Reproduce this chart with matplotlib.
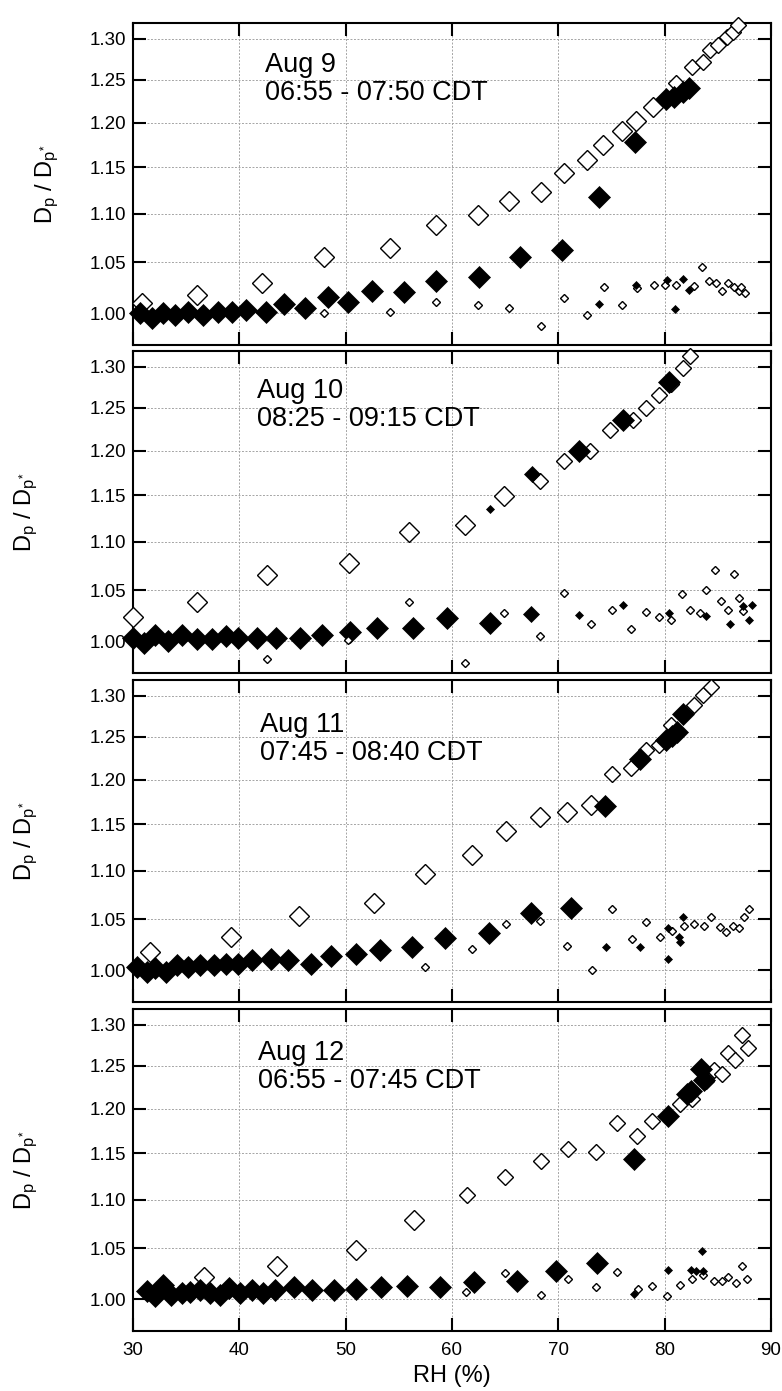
import matplotlib
matplotlib.use("Agg")
import matplotlib.pyplot as plt
from matplotlib.ticker import FixedLocator, FormatStrFormatter, NullLocator

plt.rcParams['font.family'] = ['Liberation Sans', 'DejaVu Sans']
plt.rcParams['mathtext.fontset'] = 'custom'
plt.rcParams['mathtext.rm'] = 'Liberation Sans'
plt.rcParams['mathtext.it'] = 'Liberation Sans'

# ---------------- data ----------------
panel_titles = ["Aug 9\n06:55 - 07:50 CDT", "Aug 10\n08:25 - 09:15 CDT",
                "Aug 11\n07:45 - 08:40 CDT", "Aug 12\n06:55 - 07:45 CDT"]
x_ticks = [30, 40, 50, 60, 70, 80, 90]
y_ticks = [1.00, 1.05, 1.10, 1.15, 1.20, 1.25, 1.30]

# Aug 9
aug9_big_fill_rh = [30.66, 31.76, 32.85, 33.95, 35.2, 36.6, 38.0, 39.3, 40.6, 42.5, 44.2, 46.2, 48.3, 50.25,
                    52.45, 55.5, 58.5, 62.55, 66.4, 70.3, 73.8, 77.2, 80.1, 80.9, 81.7, 82.3]
aug9_big_fill_gf = [1.000, 0.995, 1.000, 0.998, 1.0015, 0.998, 1.0015, 1.0015, 1.003, 1.0015, 1.009, 1.005, 1.016, 1.011,
                    1.021, 1.020, 1.031, 1.035, 1.055, 1.062, 1.118, 1.178, 1.227, 1.230, 1.236, 1.240]
aug9_mid_fill_rh = []
aug9_mid_fill_gf = []
aug9_small_fill_rh = [73.8, 77.3, 80.2, 81.7, 82.25, 80.96]
aug9_small_fill_gf = [1.009, 1.027, 1.032, 1.033, 1.022, 1.004]
aug9_big_open_rh = [30.8, 36.0, 42.1, 48.0, 54.2, 58.45, 62.47, 65.35, 68.4, 70.5, 72.7, 74.2, 75.95, 77.3, 78.86]
aug9_big_open_gf = [1.010, 1.018, 1.029, 1.055, 1.064, 1.088, 1.098, 1.113, 1.123, 1.144, 1.158, 1.175, 1.190, 1.202, 1.218]
aug9_mid_open_rh = [81.05, 82.6, 83.56, 84.3, 84.98, 85.9, 86.4, 86.86]
aug9_mid_open_gf = [1.246, 1.266, 1.272, 1.286, 1.293, 1.303, 1.309, 1.317]
aug9_small_open_rh = [48.0, 54.2, 58.45, 62.47, 65.4, 68.4, 70.5, 72.7, 74.26, 75.95, 77.4, 78.95, 80.0, 81.1,
                      82.8, 83.5, 84.2, 84.8, 85.4, 86.0, 86.5, 86.95, 87.2, 87.6]
aug9_small_open_gf = [1.000, 1.001, 1.011, 1.008, 1.005, 0.988, 1.015, 0.998, 1.025, 1.008, 1.024, 1.027, 1.027, 1.027,
                      1.026, 1.045, 1.031, 1.029, 1.021, 1.029, 1.025, 1.021, 1.025, 1.019]

# Aug 10
aug10_big_fill_rh = [30.03, 31.0, 32.07, 33.3, 34.6, 36.0, 37.4, 38.7, 39.86, 41.65, 43.47, 45.7, 47.8, 50.4,
                     52.9, 56.3, 59.5, 63.6, 71.9, 76.1, 80.4]
aug10_big_fill_gf = [1.003, 0.9985, 1.006, 1.000, 1.0055, 1.002, 1.002, 1.005, 1.003, 1.003, 1.003, 1.003, 1.006, 1.009,
                     1.013, 1.013, 1.022, 1.018, 1.199, 1.236, 1.281]
aug10_mid_fill_rh = [67.5, 67.4]
aug10_mid_fill_gf = [1.174, 1.026]
aug10_small_fill_rh = [63.6, 71.9, 76.1, 80.4, 83.9, 86.1, 87.35, 88.2, 87.9]
aug10_small_fill_gf = [1.135, 1.025, 1.035, 1.027, 1.024, 1.017, 1.034, 1.035, 1.020]
aug10_big_open_rh = [30.03, 36.05, 42.6, 50.3, 56.0, 61.2, 64.9]
aug10_big_open_gf = [1.023, 1.038, 1.065, 1.078, 1.110, 1.118, 1.149]
aug10_mid_open_rh = [68.3, 70.5, 73.0, 74.9, 77.0, 78.2, 79.5, 80.55, 81.7, 82.4]
aug10_mid_open_gf = [1.166, 1.188, 1.199, 1.224, 1.236, 1.250, 1.266, 1.279, 1.299, 1.314]
aug10_small_open_rh = [42.6, 50.2, 56.0, 61.2, 64.9, 68.3, 70.5, 73.1, 75.0, 76.8, 78.2, 79.5, 80.55, 81.6,
                       82.4, 83.3, 83.9, 84.7, 85.3, 86.0, 86.5, 87.0, 87.4]
aug10_small_open_gf = [0.983, 1.001, 1.038, 0.979, 1.027, 1.005, 1.047, 1.017, 1.030, 1.012, 1.0285, 1.023, 1.020, 1.046,
                       1.030, 1.0275, 1.050, 1.070, 1.039, 1.030, 1.066, 1.042, 1.029]

# Aug 11
aug11_big_fill_rh = [30.35, 31.3, 32.07, 33.1, 34.1, 35.2, 36.3, 37.66, 38.75, 39.9, 41.2, 42.97, 44.6, 46.7,
                     48.65, 51.0, 53.26, 56.25, 59.3, 63.46, 67.4, 71.2, 74.4, 77.66, 80.1, 80.65, 81.2, 81.7]
aug11_big_fill_gf = [1.003, 0.998, 1.0016, 0.998, 1.005, 1.003, 1.005, 1.005, 1.006, 1.006, 1.010, 1.011, 1.010, 1.006,
                     1.0135, 1.016, 1.019, 1.0225, 1.031, 1.036, 1.056, 1.061, 1.170, 1.224, 1.246, 1.251, 1.256, 1.278]
aug11_mid_fill_rh = []
aug11_mid_fill_gf = []
aug11_small_fill_rh = [74.46, 77.66, 80.27, 80.3, 81.37, 81.4, 81.7]
aug11_small_fill_gf = [1.022, 1.022, 1.011, 1.041, 1.032, 1.027, 1.052]
aug11_big_open_rh = [31.6, 39.2, 45.6, 52.7, 57.5, 61.9, 65.1, 68.3, 70.8, 73.1]
aug11_big_open_gf = [1.018, 1.032, 1.053, 1.066, 1.096, 1.116, 1.142, 1.158, 1.163, 1.171]
aug11_mid_open_rh = [75.0, 76.8, 78.2, 79.5, 80.58, 81.7, 82.8, 83.65, 84.4]
aug11_mid_open_gf = [1.207, 1.213, 1.235, 1.240, 1.264, 1.277, 1.289, 1.301, 1.311]
aug11_small_open_rh = [57.5, 61.9, 65.1, 68.3, 70.8, 73.2, 75.0, 76.9, 78.2, 79.6, 80.7, 81.8, 82.8, 83.7,
                       84.4, 85.2, 85.8, 86.4, 86.95, 87.45, 87.9]
aug11_small_open_gf = [1.003, 1.020, 1.045, 1.048, 1.0235, 1.000, 1.060, 1.030, 1.047, 1.032, 1.038, 1.043, 1.045, 1.043,
                       1.052, 1.042, 1.037, 1.043, 1.041, 1.052, 1.060]

# Aug 12
aug12_big_fill_rh = [31.3, 32.07, 32.85, 33.6, 34.6, 35.35, 36.3, 37.2, 38.2, 39.05, 40.1, 41.15, 42.25, 43.37,
                     45.16, 46.83, 48.93, 51.0, 53.36, 55.75, 58.85, 62.06, 66.1, 69.8, 73.66, 77.07, 80.3,
                     82.1, 82.46, 83.4, 83.7]
aug12_big_fill_gf = [1.0074, 1.0026, 1.014, 1.004, 1.006, 1.007, 1.009, 1.006, 1.004, 1.011, 1.006, 1.009, 1.006, 1.009,
                     1.012, 1.009, 1.009, 1.010, 1.012, 1.013, 1.012, 1.017, 1.018, 1.027, 1.035, 1.144, 1.192,
                     1.217, 1.220, 1.246, 1.233]
aug12_mid_fill_rh = []
aug12_mid_fill_gf = []
aug12_small_fill_rh = [77.07, 80.3, 83.5, 82.45, 82.9, 83.65]
aug12_small_fill_gf = [1.005, 1.0285, 1.047, 1.0285, 1.027, 1.027]
aug12_big_open_rh = [36.7, 43.5, 51.0, 56.4]
aug12_big_open_gf = [1.021, 1.032, 1.048, 1.079]
aug12_mid_open_rh = [61.4, 65.0, 68.4, 70.9, 73.5, 75.5, 77.4, 78.85, 80.3, 81.45, 82.6, 83.85, 84.6, 85.4,
                     86.0, 86.6, 87.3, 87.8]
aug12_mid_open_gf = [1.105, 1.124, 1.141, 1.154, 1.151, 1.184, 1.169, 1.186, 1.191, 1.205, 1.211, 1.232, 1.245, 1.241,
                     1.265, 1.257, 1.287, 1.272]
aug12_small_open_rh = [61.35, 65.0, 68.4, 70.9, 73.5, 75.55, 77.5, 78.85, 80.25, 81.45, 82.6, 83.65, 84.65, 85.4,
                       86.0, 86.7, 87.3, 87.7]
aug12_small_open_gf = [1.007, 1.025, 1.004, 1.019, 1.012, 1.026, 1.010, 1.013, 1.0035, 1.014, 1.019, 1.023, 1.018, 1.018,
                       1.021, 1.016, 1.032, 1.019]

panels = [
    dict(big_open=(aug9_big_open_rh, aug9_big_open_gf), mid_open=(aug9_mid_open_rh, aug9_mid_open_gf),
         big_fill=(aug9_big_fill_rh, aug9_big_fill_gf), mid_fill=(aug9_mid_fill_rh, aug9_mid_fill_gf),
         small_open=(aug9_small_open_rh, aug9_small_open_gf), small_fill=(aug9_small_fill_rh, aug9_small_fill_gf)),
    dict(big_open=(aug10_big_open_rh, aug10_big_open_gf), mid_open=(aug10_mid_open_rh, aug10_mid_open_gf),
         big_fill=(aug10_big_fill_rh, aug10_big_fill_gf), mid_fill=(aug10_mid_fill_rh, aug10_mid_fill_gf),
         small_open=(aug10_small_open_rh, aug10_small_open_gf), small_fill=(aug10_small_fill_rh, aug10_small_fill_gf)),
    dict(big_open=(aug11_big_open_rh, aug11_big_open_gf), mid_open=(aug11_mid_open_rh, aug11_mid_open_gf),
         big_fill=(aug11_big_fill_rh, aug11_big_fill_gf), mid_fill=(aug11_mid_fill_rh, aug11_mid_fill_gf),
         small_open=(aug11_small_open_rh, aug11_small_open_gf), small_fill=(aug11_small_fill_rh, aug11_small_fill_gf)),
    dict(big_open=(aug12_big_open_rh, aug12_big_open_gf), mid_open=(aug12_mid_open_rh, aug12_mid_open_gf),
         big_fill=(aug12_big_fill_rh, aug12_big_fill_gf), mid_fill=(aug12_mid_fill_rh, aug12_mid_fill_gf),
         small_open=(aug12_small_open_rh, aug12_small_open_gf), small_fill=(aug12_small_fill_rh, aug12_small_fill_gf)),
]

# ---------------- styles ----------------
styles = {
    'big_open':   dict(ms=10.2, mfc='white', mec='black', mew=1.0, zorder=3),
    'mid_open':   dict(ms=7.9,  mfc='white', mec='black', mew=1.0, zorder=3),
    'big_fill':   dict(ms=11.0, mfc='black', mec='black', mew=0.5, zorder=4),
    'mid_fill':   dict(ms=8.5,  mfc='black', mec='black', mew=0.5, zorder=4),
    'small_open': dict(ms=4.0,  mfc='white', mec='black', mew=1.0, zorder=5),
    'small_fill': dict(ms=4.2,  mfc='black', mec='black', mew=0.5, zorder=5),
}
order = ['big_open', 'mid_open', 'big_fill', 'mid_fill', 'small_open', 'small_fill']

W, H = 782, 1391
fig = plt.figure(figsize=(W / 100, H / 100), dpi=100)

left_px, right_px = 133, 771
tops = [23, 351, 680, 1009]
height_px = 322
label_x = [47, 26, 26, 26]
text_pos = [(0.207, 0.91), (0.194, 0.916), (0.199, 0.902), (0.196, 0.904)]

for i, p in enumerate(panels):
    ax = fig.add_axes([left_px / W, 1 - (tops[i] + height_px) / H, (right_px - left_px) / W, height_px / H])
    for key in order:
        rh, gf = p[key]
        if len(rh):
            ax.plot(rh, gf, linestyle='none', marker='D', clip_on=False, **styles[key])
    ax.set_yscale('log')
    ax.set_xlim(30, 90)
    ax.set_ylim(0.970, 1.320)
    ax.yaxis.set_major_locator(FixedLocator(y_ticks))
    ax.yaxis.set_minor_locator(NullLocator())
    ax.yaxis.set_major_formatter(FormatStrFormatter('%.2f'))
    ax.xaxis.set_major_locator(FixedLocator(x_ticks))
    ax.xaxis.set_minor_locator(NullLocator())
    ax.grid(True, which='major', color='#a5a5a5', linestyle=(0, (2.0, 1.6)), linewidth=0.7, zorder=0)
    ax.set_axisbelow(True)
    ax.tick_params(axis='both', which='major', direction='in', length=9.5, width=1.5,
                   top=True, right=True, labelsize=13.5, pad=5, colors='black')
    ax.tick_params(axis='y', labelright=False)
    if i < 3:
        ax.tick_params(axis='x', labelbottom=False)
    else:
        ax.tick_params(axis='x', pad=8)
        ax.set_xlabel('RH (%)', fontsize=17, labelpad=4)
    for s in ax.spines.values():
        s.set_linewidth(1.5)
    ax.text(text_pos[i][0], text_pos[i][1], panel_titles[i], transform=ax.transAxes,
            ha='left', va='top', fontsize=19.5, linespacing=1.1, zorder=6)
    fig.text(label_x[i] / W, 1 - (tops[i] + height_px / 2) / H, r'$D_p\ /\ D_{p^{*}}$',
             rotation=90, ha='center', va='center', fontsize=17)

fig.savefig('out.png', dpi=100)
